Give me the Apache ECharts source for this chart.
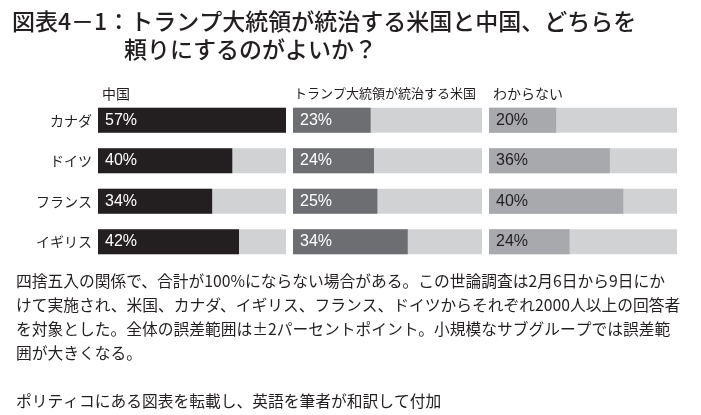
<!DOCTYPE html>
<html>

<head>
    <meta charset="UTF-8">
    <title>図表4-1</title>
    <script src="https://cdn.jsdelivr.net/npm/echarts/dist/echarts.min.js"></script>
</head>

<body style="margin:0;background:#fff;">
    <div id="chart" style="width: 701px;height:415px;"></div>
    <script type="text/javascript">
        // Data
        var countries = ['カナダ', 'ドイツ', 'フランス', 'イギリス'];
        var panelNames = ['中国', 'トランプ大統領が統治する米国', 'わからない'];
        var chinaValues = [57, 40, 34, 42];
        var usValues = [23, 24, 25, 34];
        var dontKnowValues = [20, 36, 40, 24];
        var notes = [
            '四捨五入の関係で、合計が100%にならない場合がある。この世論調査は2月6日から9日にか',
            'けて実施され、米国、カナダ、イギリス、フランス、ドイツからそれぞれ2000人以上の回答者',
            'を対象とした。全体の誤差範囲は±2パーセントポイント。小規模なサブグループでは誤差範',
            '囲が大きくなる。',
            '',
            'ポリティコにある図表を転載し、英語を筆者が和訳して付加'
        ];

        var myChart = echarts.init(document.getElementById('chart'));

        var jp = '"Noto Sans CJK JP", sans-serif';
        var panelData = [chinaValues, usValues, dontKnowValues];
        var barColors = ['#231f20', '#6d6e71', '#a7a9ac'];
        var labelColors = ['#ffffff', '#ffffff', '#231f20'];
        var panelLeft = [98, 293, 489];
        var panelWidth = [188, 189, 188];

        var grids = [], xAxes = [], yAxes = [], series = [], graphics = [];
        panelData.forEach(function (vals, i) {
            grids.push({ left: panelLeft[i], width: panelWidth[i], top: 100, height: 162 });
            xAxes.push({ type: 'value', gridIndex: i, min: 0, max: 56, show: false });
            yAxes.push({
                type: 'category', gridIndex: i, data: countries, inverse: true,
                axisLine: { show: false }, axisTick: { show: false },
                axisLabel: {
                    show: i === 0, margin: 6, fontSize: 14, color: '#231f20', fontFamily: jp
                }
            });
            series.push({
                type: 'bar', xAxisIndex: i, yAxisIndex: i, data: vals, barWidth: 25,
                itemStyle: { color: barColors[i] },
                showBackground: true,
                backgroundStyle: { color: '#d1d2d4' },
                label: {
                    show: true, position: 'insideLeft', distance: 7,
                    formatter: '{c}%', color: labelColors[i],
                    fontSize: 16, fontFamily: '"Liberation Sans", sans-serif'
                }
            });
            // panel header
            graphics.push({
                type: 'text', left: panelLeft[i] + (i === 1 ? 1 : 4), top: 87,
                style: { text: panelNames[i], fill: '#231f20', font: (i === 1 ? '13px ' : '14px ') + jp }
            });
        });

        notes.forEach(function (line, k) {
            graphics.push({
                type: 'text', left: 16, top: 273 + k * 24,
                style: { text: line, font: '15.75px ' + jp, fill: '#231f20' }
            });
        });

        var option = {
            backgroundColor: '#ffffff',
            title: [
                {
                    text: '図表4－1：トランプ大統領が統治する米国と中国、どちらを',
                    left: 12, top: 10, padding: 0,
                    textStyle: { fontSize: 23, fontWeight: 500, color: '#231f20', fontFamily: jp }
                },
                {
                    text: '頼りにするのがよいか？',
                    left: 124, top: 38, padding: 0,
                    textStyle: { fontSize: 23, fontWeight: 500, color: '#231f20', fontFamily: jp }
                }
            ],
            grid: grids,
            xAxis: xAxes,
            yAxis: yAxes,
            series: series,
            graphic: graphics
        };

        myChart.setOption(option);
    </script>
</body>

</html>
